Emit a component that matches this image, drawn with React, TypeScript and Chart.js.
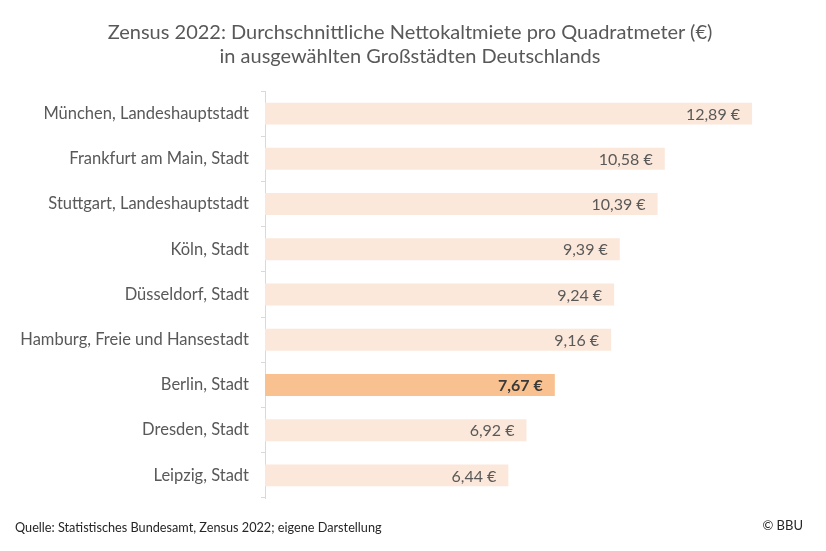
import React, { useEffect, useRef } from "react";
import { Chart, registerables } from "chart.js";

Chart.register(...registerables);

const categories = [
  "München, Landeshauptstadt",
  "Frankfurt am Main, Stadt",
  "Stuttgart, Landeshauptstadt",
  "Köln, Stadt",
  "Düsseldorf, Stadt",
  "Hamburg, Freie und Hansestadt",
  "Berlin, Stadt",
  "Dresden, Stadt",
  "Leipzig, Stadt",
];
const values = [12.89, 10.58, 10.39, 9.39, 9.24, 9.16, 7.67, 6.92, 6.44];
const highlight = "Berlin, Stadt";
const titleLines = [
  "Zensus 2022: Durchschnittliche Nettokaltmiete pro Quadratmeter (€)",
  "in ausgewählten Großstädten Deutschlands",
];
const sourceText = "Quelle: Statistisches Bundesamt, Zensus 2022; eigene Darstellung";
const copyrightText = "© BBU";

const FONT = "Lato, 'Open Sans', sans-serif";
const TEXT = "#595959";
const LIGHT = "#FCE8DA";
const STRONG = "#F9C18F";

const fmt = (v: number) => v.toFixed(2).replace(".", ",") + " €";

const labelPlugin = {
  id: "valueLabels",
  afterDatasetsDraw(chart: any) {
    const ctx = chart.ctx;
    const meta = chart.getDatasetMeta(0);
    ctx.save();
    ctx.textAlign = "right";
    ctx.textBaseline = "middle";
    meta.data.forEach((bar: any, i: number) => {
      const bold = categories[i] === highlight;
      ctx.font = `${bold ? "bold " : ""}16px ${FONT}`;
      ctx.fillStyle = bold ? "#3a3a3a" : TEXT;
      ctx.fillText(fmt(values[i]), bar.x - 12, bar.y + 1);
    });
    ctx.restore();
  },
};

export default function App() {
  const ref = useRef<HTMLCanvasElement>(null);
  useEffect(() => {
    const chart = new Chart(ref.current!, {
      type: "bar",
      data: {
        labels: categories,
        datasets: [
          {
            data: values,
            backgroundColor: categories.map((c) => (c === highlight ? STRONG : LIGHT)),
            barPercentage: 0.97,
            categoryPercentage: 0.5,
          },
        ],
      },
      options: {
        indexAxis: "y",
        animation: false,
        responsive: false,
        layout: { padding: { top: 91, bottom: 53, left: 0, right: 32 } },
        plugins: {
          legend: { display: false },
          tooltip: { enabled: false },
          title: { display: false },
        },
        scales: {
          x: { display: false, min: 0, max: 14 },
          y: {
            afterFit: (s: any) => {
              s.width = 265;
            },
            border: { display: true, color: "#d9d9d9", width: 1 },
            grid: {
              offset: true,
              drawOnChartArea: false,
              drawTicks: true,
              tickLength: 4,
              color: "#d9d9d9",
            },
            ticks: {
              color: TEXT,
              padding: 12,
              font: { family: FONT, size: 16.5 },
            },
          },
        },
      },
      plugins: [labelPlugin],
    });
    return () => chart.destroy();
  }, []);

  return (
    <div style={{ position: "absolute", left: 0, top: 0, width: 826, height: 551, background: "#fff", fontFamily: FONT }}>
      <canvas ref={ref} width={826} height={551} style={{ position: "absolute", left: 0, top: 0 }} />
      <div style={{ position: "absolute", left: 0, top: 19, width: 826, textAlign: "center", color: TEXT, fontSize: 20, lineHeight: "24px" }}>
        <div style={{ marginLeft: -6 }}>{titleLines[0]}</div>
        <div style={{ marginLeft: -6 }}>{titleLines[1]}</div>
      </div>
      <div style={{ position: "absolute", left: 15, top: 519, fontSize: 12.7, color: "#262626" }}>{sourceText}</div>
      <div style={{ position: "absolute", right: 23, top: 517, fontSize: 13, color: "#262626" }}>{copyrightText}</div>
    </div>
  );
}
